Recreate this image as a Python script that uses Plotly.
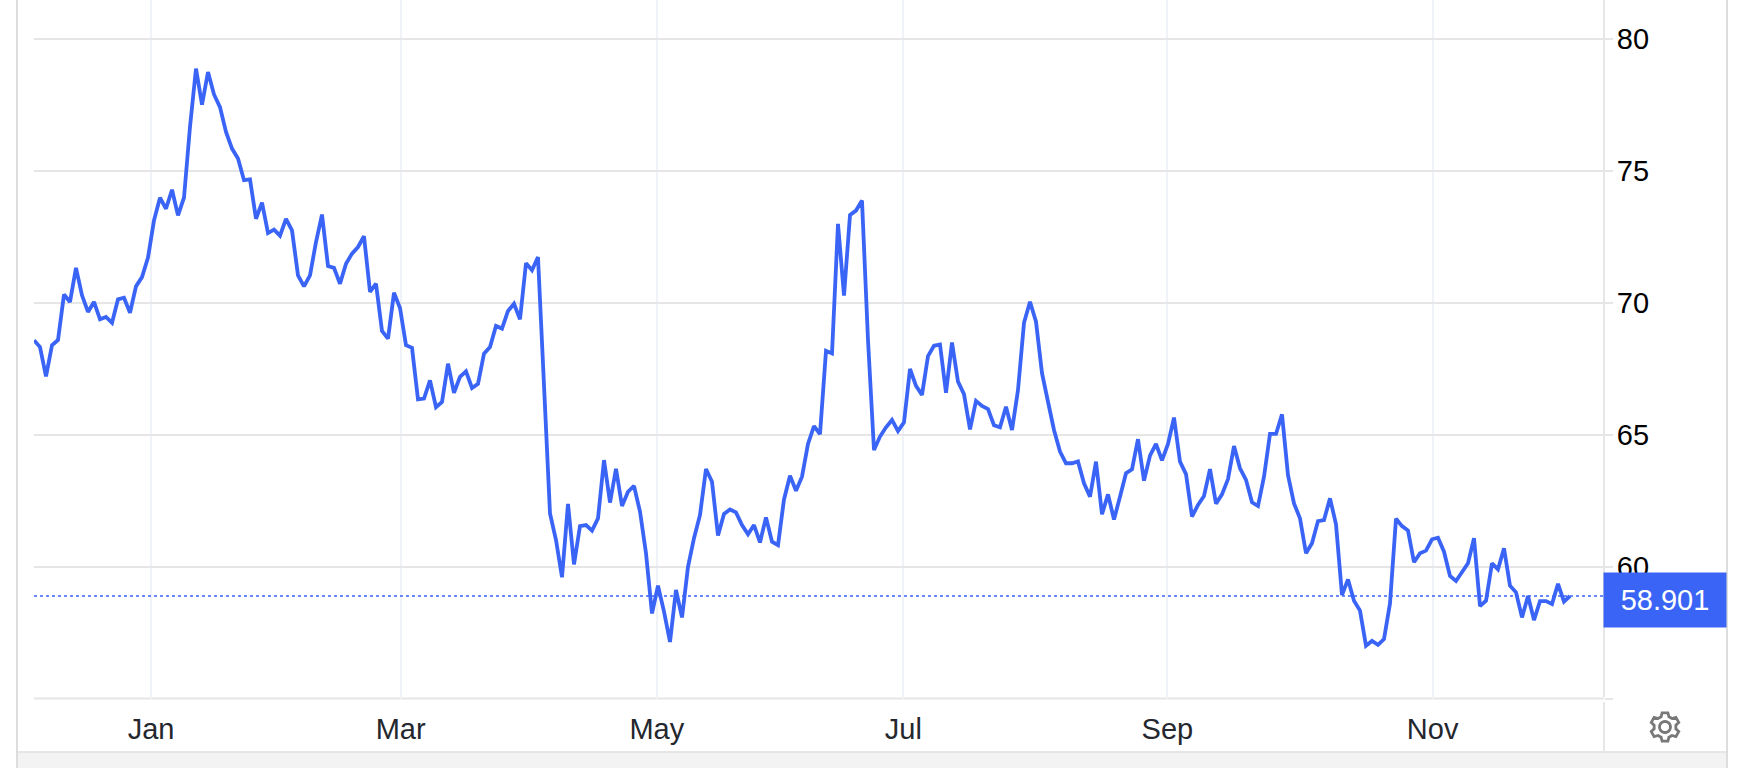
import math
import plotly.graph_objects as go

values = [
 68.59,68.33,67.22,68.40,68.60,70.32,70.04,71.33,70.29,69.66,70.04,69.38,69.47,69.25,70.14,70.20,69.63,70.63,70.98,71.72,
 73.13,73.99,73.57,74.29,73.32,73.99,76.67,78.88,77.51,78.75,77.90,77.42,76.48,75.85,75.47,74.65,74.68,73.19,73.80,72.65,
 72.78,72.55,73.19,72.75,71.05,70.63,71.05,72.31,73.35,71.40,71.33,70.73,71.49,71.87,72.12,72.53,70.42,70.73,68.94,68.65,
 70.39,69.81,68.40,68.30,66.35,66.38,67.07,66.05,66.25,67.70,66.60,67.20,67.41,66.78,66.94,68.08,68.33,69.13,69.03,69.70,
 69.97,69.38,71.51,71.24,71.74,67.00,62.03,61.02,59.61,62.39,60.10,61.55,61.59,61.38,61.84,64.05,62.44,63.72,62.31,62.85,
 63.07,62.10,60.52,58.24,59.29,58.31,57.16,59.13,58.09,60.01,61.09,61.97,63.71,63.23,61.19,62.01,62.18,62.07,61.59,61.24,
 61.59,60.93,61.88,60.96,60.83,62.56,63.46,62.89,63.42,64.66,65.34,65.03,68.19,68.09,73.00,70.28,73.33,73.50,73.88,68.60,
 64.43,64.94,65.29,65.57,65.15,65.48,67.50,66.86,66.52,67.99,68.38,68.43,66.60,68.50,67.02,66.55,65.21,66.29,66.10,65.98,
 65.37,65.29,66.07,65.19,66.70,69.25,70.05,69.29,67.34,66.26,65.19,64.37,63.93,63.93,64.00,63.17,62.66,63.99,62.00,62.75,
 61.80,62.66,63.55,63.70,64.84,63.27,64.22,64.66,64.04,64.66,65.66,63.99,63.52,61.91,62.35,62.69,63.71,62.40,62.75,63.33,
 64.58,63.74,63.30,62.45,62.31,63.42,65.04,65.04,65.78,63.48,62.41,61.84,60.52,60.90,61.74,61.78,62.60,61.62,58.94,59.53,
 58.72,58.35,57.02,57.20,57.05,57.27,58.62,61.83,61.55,61.38,60.18,60.52,60.62,61.05,61.11,60.58,59.66,59.47,59.79,60.14,
 61.09,58.52,58.72,60.14,59.91,60.71,59.29,59.04,58.09,58.90,57.99,58.71,58.71,58.60,59.36,58.69,58.901,
]
sessions = list(range(len(values)))
month_positions = [19.5, 61.1, 103.8, 144.9, 188.9, 233.1]
month_labels = ["Jan", "Mar", "May", "Jul", "Sep", "Nov"]
y_ticks = [55, 60, 65, 70, 75, 80]
y_labels = ["", "60", "65", "70", "75", "80"]
last_value = values[-1]

W, H = 1740, 768
L, R, T, B = 34, 136, 0, 69
PW, PH = W - L - R, H - T - B
BLUE = "#3a64f5"
GRID = "#e6e6e6"
VGRID = "#eff3f7"
FONT = "Liberation Sans, Arial, Helvetica, sans-serif"

def px(x):
    return (x - L) / PW

def py(y):
    return 1 - (y - T) / PH

def gear_path(n=6, r_out=14.5, r_in=11.0, r_hole=5.5):
    pts = []
    step = 2 * math.pi / n
    for i in range(n):
        a = i * step + math.pi / 2
        for da, r in ((-0.36, r_in), (-0.20, r_out), (0.20, r_out), (0.36, r_in)):
            pts.append((r * math.cos(a + da), r * math.sin(a + da)))
    d = "M" + " L".join(f"{x:.2f},{y:.2f}" for x, y in pts) + " Z "
    hole = [(r_hole * math.cos(k * math.pi / 12), r_hole * math.sin(k * math.pi / 12)) for k in range(24)]
    d += "M" + " L".join(f"{x:.2f},{y:.2f}" for x, y in hole) + " Z"
    return d

fig = go.Figure()
fig.add_trace(go.Scatter(
    x=sessions, y=values, mode="lines",
    line=dict(color=BLUE, width=3.8, shape="linear"),
    hoverinfo="y", showlegend=False, cliponaxis=False,
))

shapes = [
    # frame of the widget
    dict(type="rect", xref="paper", yref="paper", x0=px(17), x1=px(1727), y0=py(768), y1=py(753),
         fillcolor="#f3f3f3", line=dict(width=0), layer="below"),
    dict(type="line", xref="paper", yref="paper", x0=px(17), x1=px(1727), y0=py(752), y1=py(752),
         line=dict(color=GRID, width=2), layer="below"),
    dict(type="line", xref="paper", yref="paper", x0=px(17), x1=px(17), y0=py(0), y1=py(768),
         line=dict(color="#dddddd", width=2), layer="below"),
    dict(type="line", xref="paper", yref="paper", x0=px(1727), x1=px(1727), y0=py(0), y1=py(768),
         line=dict(color="#dddddd", width=2), layer="below"),
    # value axis line, carried down past the plot
    dict(type="line", xref="paper", yref="paper", x0=1, x1=1, y0=py(0), y1=py(697),
         line=dict(color=GRID, width=2), layer="below"),
    dict(type="line", xref="paper", yref="paper", x0=1, x1=1, y0=py(702), y1=py(752),
         line=dict(color=GRID, width=2), layer="below"),
    # baseline of the plot
    dict(type="line", xref="paper", yref="paper", x0=0, x1=1, y0=py(698.5), y1=py(698.5),
         line=dict(color=GRID, width=2), layer="below"),
    # last value guide
    dict(type="line", xref="paper", yref="y", x0=0, x1=1, y0=last_value, y1=last_value,
         line=dict(color=BLUE, width=1.5, dash="dot"), layer="above"),
    # settings gear
    dict(type="path", xref="paper", yref="paper", xsizemode="pixel", ysizemode="pixel",
         xanchor=px(1665), yanchor=py(727), path=gear_path(),
         line=dict(color="#787878", width=2.8), fillcolor="rgba(0,0,0,0)"),
]

fig.update_layout(
    width=W, height=H, autosize=False,
    margin=dict(l=L, r=R, t=T, b=B, pad=0),
    paper_bgcolor="white", plot_bgcolor="white",
    font=dict(family=FONT, size=29, color="#000000"),
    showlegend=False,
    shapes=shapes,
    annotations=[dict(
        xref="paper", yref="y", x=1, y=last_value, xanchor="left", yanchor="middle",
        text=f"{last_value:.3f}", showarrow=False, yshift=-4, xshift=-1,
        width=122, height=54, align="center", bgcolor=BLUE, borderpad=0,
        font=dict(family=FONT, size=29, color="white"),
    )],
    xaxis=dict(
        range=[0, PW / 6.0], tickmode="array", tickvals=month_positions, ticktext=month_labels,
        showgrid=True, gridcolor=VGRID, gridwidth=2, zeroline=False, showline=False,
        ticks="outside", ticklen=4, tickcolor="rgba(0,0,0,0)",
        tickfont=dict(family=FONT, size=29, color="#24272e"),
    ),
    yaxis=dict(
        range=[55, 80 + 39 / 26.4], side="right", tickmode="array", tickvals=y_ticks, ticktext=y_labels,
        showgrid=True, gridcolor=GRID, gridwidth=2, zeroline=False, showline=False,
        ticks="outside", ticklen=8, tickcolor=GRID, tickwidth=2, ticklabelstandoff=-2,
        tickfont=dict(family=FONT, size=29, color="#000000"),
    ),
)

fig.write_html("out.html", config=dict(displayModeBar=False),
               post_script="document.body.style.margin='0';document.body.style.overflow='hidden';")
